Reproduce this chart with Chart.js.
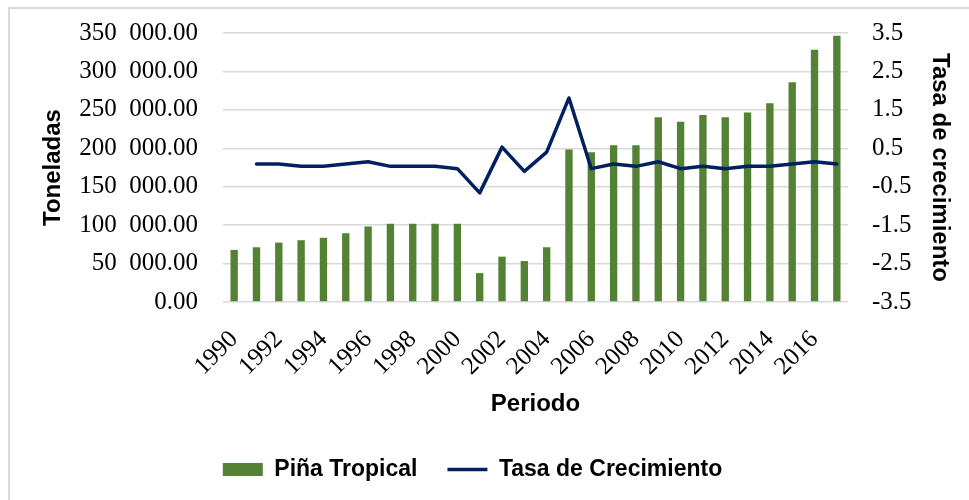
<!DOCTYPE html>
<html lang="es">
<head>
<meta charset="utf-8">
<title>Piña Tropical</title>
<script src="https://cdn.jsdelivr.net/npm/chart.js@4/dist/chart.umd.min.js"></script>
<style>
    html, body { margin: 0; padding: 0; background: #fff; }
    #contenedor { width: 969px; height: 500px; position: relative; }
</style>
</head>
<body>
<div id="contenedor"><canvas id="grafico"></canvas></div>
<script>
// Datos
const anios = ['1990', '1991', '1992', '1993', '1994', '1995', '1996', '1997', '1998', '1999',
    '2000', '2001', '2002', '2003', '2004', '2005', '2006', '2007', '2008', '2009',
    '2010', '2011', '2012', '2013', '2014', '2015', '2016', '2017'];
const toneladas = [67800, 71200, 77300, 80400, 83500, 89500, 98300, 101800, 101800, 101800,
    101800, 37600, 59000, 53300, 71200, 198300, 194900, 204100, 204100, 240300,
    234600, 243400, 240300, 246400, 258600, 285800, 328100, 346500];
const tasaCrecimiento = [null, 0.09, 0.09, 0.03, 0.03, 0.09, 0.15, 0.03, 0.03, 0.03,
    -0.03, -0.66, 0.53, -0.1, 0.4, 1.81, -0.03, 0.09, 0.03, 0.15,
    -0.03, 0.03, -0.03, 0.03, 0.03, 0.09, 0.15, 0.09];
// solo se muestran los años pares en el eje
const etiquetasX = ['1990', '1992', '1994', '1996', '1998', '2000', '2002', '2004',
    '2006', '2008', '2010', '2012', '2014', '2016'];

const fuenteNumeros = 'Liberation Serif';
const fuenteTitulos = 'Liberation Sans';

// Formato "350 000.00" (espacio de cifra como separador de miles)
function formatoMiles(valor) {
    const partes = valor.toFixed(2).split('.');
    return partes[0].replace(/\B(?=(\d{3})+(?!\d))/g, '\u2007') + '.' + partes[1];
}

// Fondo blanco y el marco gris (arriba e izquierda)
const marco = {
    id: 'marco',
    beforeDraw(chart) {
        const ctx = chart.ctx;
        ctx.save();
        ctx.fillStyle = '#fff';
        ctx.fillRect(0, 0, chart.width, chart.height);
        ctx.strokeStyle = '#d9d9d9';
        ctx.lineWidth = 2;
        ctx.beginPath();
        ctx.moveTo(9, chart.height);
        ctx.lineTo(9, 8);
        ctx.lineTo(chart.width, 8);
        ctx.stroke();
        ctx.restore();
    }
};

function crearGrafico() {
    const ctx = document.getElementById('grafico').getContext('2d');
    return new Chart(ctx, {
        type: 'bar',
        data: {
            labels: anios,
            datasets: [{
                type: 'line',
                label: 'Tasa de Crecimiento',
                data: tasaCrecimiento,
                yAxisID: 'yTasa',
                borderColor: '#002060',
                backgroundColor: '#002060',
                borderWidth: 3.5,
                pointRadius: 0,
                tension: 0,
                borderJoinStyle: 'round',
                borderCapStyle: 'round'
            }, {
                label: 'Piña Tropical',
                data: toneladas,
                yAxisID: 'yToneladas',
                backgroundColor: '#548235',
                borderWidth: 0,
                barPercentage: 0.33,
                categoryPercentage: 1
            }]
        },
        options: {
            responsive: true,
            maintainAspectRatio: false,
            animation: false,
            layout: { padding: { left: 20, right: 44, top: 26, bottom: 9 } },
            plugins: {
                tooltip: { enabled: false },
                legend: {
                    position: 'bottom',
                    labels: {
                        sort: (a, b) => b.datasetIndex - a.datasetIndex,
                        usePointStyle: true,
                        generateLabels(chart) {
                            const items = Chart.defaults.plugins.legend.labels.generateLabels(chart);
                            items.forEach(item => {
                                item.pointStyle = item.datasetIndex === 0 ? 'line' : 'rect';
                            });
                            return items;
                        },
                        pointStyleWidth: 40,
                        boxHeight: 13,
                        padding: 30,
                        color: '#000',
                        font: { family: fuenteTitulos, size: 23, weight: 'bold' }
                    }
                }
            },
            scales: {
                x: {
                    offset: true,
                    grid: { display: false },
                    border: { display: false },
                    ticks: {
                        autoSkip: false,
                        minRotation: 45,
                        maxRotation: 45,
                        padding: 15,
                        color: '#000',
                        font: { family: fuenteNumeros, size: 25 },
                        callback: function(valor) {
                            const anio = this.getLabelForValue(valor);
                            return etiquetasX.includes(anio) ? anio : '';
                        }
                    },
                    title: {
                        display: true,
                        text: 'Periodo',
                        color: '#000',
                        padding: { top: 0, bottom: 9 },
                        font: { family: fuenteTitulos, size: 24, weight: 'bold' }
                    },
                    afterFit(scale) { scale.height = 126; }
                },
                yToneladas: {
                    position: 'left',
                    min: 0,
                    max: 350000,
                    grid: { color: '#d9d9d9', lineWidth: 1.5, tickLength: 7, tickColor: 'rgba(0,0,0,0)' },
                    border: { display: false },
                    ticks: {
                        stepSize: 50000,
                        autoSkip: false,
                        padding: 18,
                        color: '#000',
                        font: { family: fuenteNumeros, size: 25 },
                        callback: valor => formatoMiles(valor)
                    },
                    title: {
                        display: true,
                        text: 'Toneladas',
                        color: '#000',
                        padding: { top: 19, bottom: 0 },
                        font: { family: fuenteTitulos, size: 24, weight: 'bold' }
                    },
                    afterFit(scale) { scale.width = 203; }
                },
                yTasa: {
                    position: 'right',
                    min: -3.5,
                    max: 3.5,
                    grid: { drawOnChartArea: false, color: 'rgba(0,0,0,0)', tickLength: 6 },
                    border: { display: false },
                    ticks: {
                        stepSize: 1,
                        autoSkip: false,
                        padding: 18,
                        color: '#000',
                        font: { family: fuenteNumeros, size: 25 },
                        callback: valor => valor.toFixed(1)
                    },
                    title: {
                        display: true,
                        text: 'Tasa de crecimiento',
                        color: '#000',
                        padding: { top: -29, bottom: 0 },
                        font: { family: fuenteTitulos, size: 24, weight: 'bold' }
                    },
                    afterFit(scale) { scale.width = 77; }
                }
            }
        },
        plugins: [marco]
    });
}

window.onload = function() {
    crearGrafico();
};
</script>
</body>
</html>
